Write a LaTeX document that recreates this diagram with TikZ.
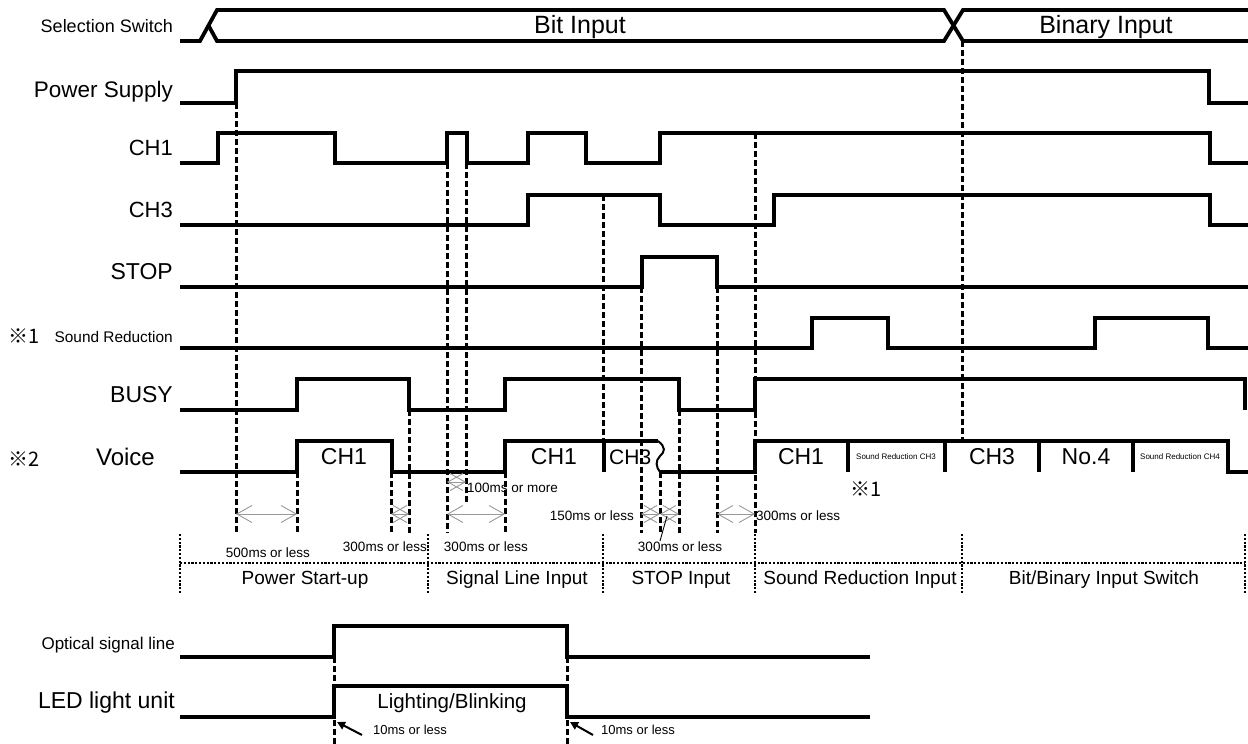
\documentclass[tikz,border=0pt]{standalone}
\usepackage{fontspec}
\setmainfont{Liberation Sans}
\newfontfamily\cjkfont{Noto Sans CJK JP}
\usetikzlibrary{arrows.meta}
\tikzset{
  sig/.style={line width=3.8pt, line join=miter, line cap=butt},
  guide/.style={line width=3pt, dash pattern=on 6pt off 3pt},
  sect/.style={line width=2.6pt, dash pattern=on 2.2pt off 1.6pt},
  txt/.style={inner sep=0pt, font=\fontsize{#1}{#1}\selectfont},
  sep/.style={line width=3.8pt},
  tm/.style={draw=gray!80, line width=0.9pt,
     {Straight Barb[length=15pt,width=17pt]}-{Straight Barb[length=15pt,width=17pt]}},
  pointer/.style={line width=2pt, -{Triangle[length=8pt,width=8pt]}},
}
\begin{document}
\begin{tikzpicture}[x=1pt,y=-1pt]
\useasboundingbox (0,0) rectangle (1248,744);

% ---------------- left labels ----------------
\node[txt=18, anchor=base east] (lsel) at (173,32) {Selection Switch};
\node[txt=22.5, anchor=base east] (lpow) at (173,97) {Power Supply};
\node[txt=22, anchor=base east] (lch1) at (173,155) {CH1};
\node[txt=22, anchor=base east] (lch3) at (173,217) {CH3};
\node[txt=23, anchor=base east] (lstop) at (173,279) {STOP};
\node[txt=15.4, anchor=base east] (lsr) at (173,342) {Sound Reduction};
\node[txt=23, anchor=base east] (lbusy) at (173,402) {BUSY};
\node[txt=24, anchor=base east] (lvoice) at (155,465) {Voice};
\node[txt=20, anchor=base west] (n1) at (8,343) {\cjkfont ※1};
\node[txt=20, anchor=base west] (n2) at (8,466) {\cjkfont ※2};

% ---------------- selection switch ----------------
\draw[sig] (180,41) -- (200,41) -- (217,10) -- (944,10) -- (963,41) -- (1248,41);
\draw[sig] (208.5,25.5) -- (217,41) -- (944,41) -- (963,10) -- (1248,10);
\node[txt=25, anchor=base] (tbit) at (580,34) {Bit Input};
\node[txt=25, anchor=base] (tbin) at (1106,34) {Binary Input};

% ---------------- guide lines (dashed) ----------------
\draw[guide] (236,103) -- (236,533);
\draw[guide] (297,472) -- (297,533);
\draw[guide] (391,472) -- (391,533);
\draw[guide] (409,410) -- (409,533);
\draw[guide] (447,163) -- (447,533);
\draw[guide] (466,163) -- (466,502);
\draw[guide] (505,472) -- (505,533);
\draw[guide] (603,195) -- (603,441);
\draw[guide] (641,287) -- (641,533);
\draw[guide] (660,472) -- (660,533);
\draw[guide] (679,410) -- (679,533);
\draw[guide] (717,287) -- (717,533);
\draw[guide] (755,133) -- (755,533);
\draw[guide] (962,41) -- (962,441);

% ---------------- signals ----------------
% Power supply
\draw[sig] (180,103) -- (236,103) -- (236,71) -- (1209,71) -- (1209,103) -- (1248,103);
% CH1
\draw[sig] (180,163) -- (218,163) -- (218,133) -- (335,133) -- (335,163) -- (447,163) -- (447,133)
  -- (467,133) -- (467,163) -- (528,163) -- (528,133) -- (586,133) -- (586,163) -- (660,163)
  -- (660,133) -- (1210,133) -- (1210,163) -- (1248,163);
% CH3
\draw[sig] (180,225) -- (528,225) -- (528,195) -- (660,195) -- (660,225) -- (774,225) -- (774,195)
  -- (1210,195) -- (1210,225) -- (1248,225);
% STOP
\draw[sig] (180,287) -- (642,287) -- (642,257) -- (717,257) -- (717,287) -- (1248,287);
% Sound reduction
\draw[sig] (180,348) -- (812,348) -- (812,318) -- (888,318) -- (888,348) -- (1095,348) -- (1095,318)
  -- (1208,318) -- (1208,348) -- (1248,348);
% BUSY
\draw[sig] (180,410) -- (297,410) -- (297,379) -- (409,379) -- (409,410) -- (505,410) -- (505,379)
  -- (679,379) -- (679,410) -- (755,410) -- (755,379) -- (1245,379) -- (1245,410);
% Voice
\draw[sig] (180,472) -- (297,472) -- (297,441) -- (392,441) -- (392,472) -- (505,472) -- (505,441) -- (658,441);
\draw[line width=2pt] (658,441) .. controls (666,447) and (665,452) .. (660,456)
  .. controls (655,461) and (656,467) .. (660,472);
\draw[sig] (660,472) -- (755,472) -- (755,441) -- (1228,441) -- (1228,472) -- (1248,472);
\foreach \x in {604,848,945,1039,1133} \draw[sep] (\x,441) -- (\x,472);

% voice labels
\node[txt=23, anchor=base] (v1) at (344,464) {CH1};
\node[txt=23, anchor=base] (v2) at (554,464) {CH1};
\node[txt=21, anchor=base west] (v3) at (609,464) {CH3};
\node[txt=23, anchor=base] (v4) at (801,464) {CH1};
\node[txt=8, anchor=base] (v5) at (896,459) {Sound Reduction CH3};
\node[txt=23, anchor=base] (v6) at (992,464) {CH3};
\node[txt=23, anchor=base] (v7) at (1086,464) {No.4};
\node[txt=8, anchor=base] (v8) at (1180,459) {Sound Reduction CH4};
\node[txt=20, anchor=base] (n1b) at (866,496) {\cjkfont ※1};

% ---------------- timing annotations ----------------
\coordinate (a1) at (236,514); \coordinate (b1) at (297,514);
\coordinate (a2) at (391,514); \coordinate (b2) at (409,514);
\coordinate (a3) at (447,514); \coordinate (b3) at (505,514);
\coordinate (a4) at (641,514); \coordinate (b4) at (660,514);
\coordinate (a5) at (660,514); \coordinate (b5) at (679,514);
\coordinate (a6) at (717,514); \coordinate (b6) at (755,514);
\coordinate (a7) at (447,482); \coordinate (b7) at (466,482);
\foreach \i in {1,...,7} \draw[tm] (a\i) -- (b\i);

\node[txt=13.5, anchor=base west] (t100) at (467,492) {100ms or more};
\node[txt=13.5, anchor=base east] (t150) at (634,520) {150ms or less};
\node[txt=13.5, anchor=base west] (t300d) at (756,520) {300ms or less};
\node[txt=13.5, anchor=base] (t500) at (268,557) {500ms or less};
\node[txt=13.5, anchor=base] (t300a) at (385,551) {300ms or less};
\node[txt=13.5, anchor=base] (t300b) at (486,551) {300ms or less};
\node[txt=13.5, anchor=base] (t300c) at (680,551) {300ms or less};
\coordinate (lead) at (667,516);
\draw[line width=0.9pt] (660,541) -- (lead);

% ---------------- sections ----------------
\draw[sect] (180,563) -- (1245,563);
\foreach \x in {180,428,603,755,962,1245} \draw[sect] (\x,534) -- (\x,593);
\node[txt=19, anchor=base] (s1) at (305,584) {Power Start-up};
\node[txt=19, anchor=base] (s2) at (517,584) {Signal Line Input};
\node[txt=19, anchor=base] (s3) at (681,584) {STOP Input};
\node[txt=19, anchor=base] (s4) at (860,584) {Sound Reduction Input};
\node[txt=19, anchor=base] (s5) at (1104,584) {Bit/Binary Input Switch};

% ---------------- optical / LED ----------------
\node[txt=17, anchor=base east] (lopt) at (175,649) {Optical signal line};
\node[txt=23, anchor=base east] (lled) at (175,708) {LED light unit};
\draw[guide] (334,657) -- (334,744);
\draw[guide] (567,657) -- (567,744);
\draw[sig] (180,657) -- (334,657) -- (334,626) -- (567,626) -- (567,657) -- (870,657);
\draw[sig] (180,717) -- (334,717) -- (334,686) -- (567,686) -- (567,717) -- (870,717);
\node[txt=20.5, anchor=base] (lb) at (452,708) {Lighting/Blinking};
\coordinate (p1) at (337,722); \coordinate (q1) at (362,735);
\coordinate (p2) at (570,722); \coordinate (q2) at (593,735);
\draw[pointer] (q1) -- (p1);
\draw[pointer] (q2) -- (p2);
\node[txt=13, anchor=base west] (d1) at (373,734) {10ms or less};
\node[txt=13, anchor=base west] (d2) at (601,734) {10ms or less};
\end{tikzpicture}
\end{document}
